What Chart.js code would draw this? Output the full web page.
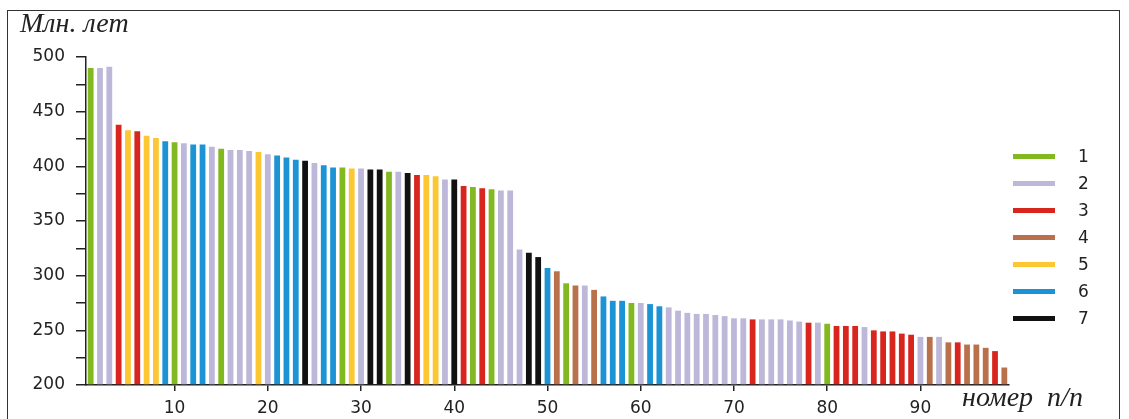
<!DOCTYPE html>
<html>
<head>
<meta charset="utf-8">
<script src="https://cdn.jsdelivr.net/npm/chart.js@4.4.1/dist/chart.umd.min.js"></script>
<style>
  html, body { margin: 0; padding: 0; background: #fff; }
  #wrap { position: relative; width: 1129px; height: 419px; overflow: hidden; }
  #frame { position: absolute; left: 7px; top: 10px; width: 1111px; height: 440px; border: 1.5px solid #333; }
  canvas { position: absolute; left: 0; top: 0; }
  .title { position: absolute; font-family: "Liberation Serif", serif; font-style: italic; font-size: 28px; color: #222; white-space: nowrap; }
  #legend { position: absolute; left: 1013px; top: 143px; font-family: "DejaVu Sans", sans-serif; font-size: 17px; color: #222; }
  #legend .row { position: relative; height: 27px; width: 90px; }
  #legend .sw { position: absolute; left: 0; top: 11px; width: 42px; height: 5px; }
  #legend .lb { position: absolute; left: 65px; top: 3px; }
</style>
</head>
<body>
<div id="wrap">
  <div id="frame"></div>
  <canvas id="chart" width="1129" height="419"></canvas>
  <div class="title" style="left:20px; top:7px;">Млн. лет</div>
  <div class="title" style="left:962px; top:381px;">номер&nbsp;&nbsp;п/п</div>
  <div id="legend"></div>
</div>
<script>
// Age of each object (Ma), in order of number
const ages = [
  490, 490, 491, 438, 433, 432, 428, 426, 423, 422,
  421, 420, 420, 418, 416, 415, 415, 414, 413, 411,
  410, 408, 406, 405, 403, 401, 399, 399, 398, 398,
  397, 397, 395, 395, 394, 392, 392, 391, 388, 388,
  382, 381, 380, 379, 378, 378, 324, 321, 317, 307,
  304, 293, 291, 291, 287, 281, 277, 277, 275, 275,
  274, 272, 271, 268, 266, 265, 265, 264, 263, 261,
  261, 260, 260, 260, 260, 259, 258, 257, 257, 256,
  254, 254, 254, 253, 250, 249, 249, 247, 246, 244,
  244, 244, 239, 239, 237, 237, 234, 231, 216
];

// Group (1..7) of each bar
const groups = [
  1, 2, 2, 3, 5, 3, 5, 5, 6, 1,
  2, 6, 6, 2, 1, 2, 2, 2, 5, 2,
  6, 6, 6, 7, 2, 6, 6, 1, 5, 2,
  7, 7, 1, 2, 7, 3, 5, 5, 2, 7,
  3, 1, 3, 1, 2, 2, 2, 7, 7, 6,
  4, 1, 4, 2, 4, 6, 6, 6, 1, 2,
  6, 6, 2, 2, 2, 2, 2, 2, 2, 2,
  2, 3, 2, 2, 2, 2, 2, 3, 2, 1,
  3, 3, 3, 2, 3, 3, 3, 3, 3, 2,
  4, 2, 4, 3, 4, 4, 4, 3, 4
];

const groupNames = ["1", "2", "3", "4", "5", "6", "7"];
const groupColors = ["#82b921", "#bdb7d9", "#d8261f", "#b9714b", "#fcc733", "#1b93d5", "#111111"];

const numbers = ages.map((_, i) => String(i + 1));

// legend
const legend = document.getElementById("legend");
groupNames.forEach((name, i) => {
    const row = document.createElement("div");
    row.className = "row";
    row.innerHTML = '<div class="sw" style="background:' + groupColors[i] + '"></div><div class="lb">' + name + '</div>';
    legend.appendChild(row);
});

const tickFont = { family: "'DejaVu Sans', sans-serif", size: 17 };

new Chart(document.getElementById("chart"), {
    type: "bar",
    data: {
        labels: numbers,
        datasets: [
            {
                data: ages,
                backgroundColor: groups.map((g) => groupColors[g - 1]),
                barPercentage: 0.62,
                categoryPercentage: 1.0,
                base: 200,
            },
        ],
    },
    options: {
        responsive: false,
        animation: false,
        layout: {
            padding: { left: 0, right: 120, top: 57, bottom: 0 },
        },
        plugins: {
            legend: { display: false },
            tooltip: { enabled: false },
        },
        scales: {
            x: {
                offset: true,
                grid: {
                    offset: false,
                    drawOnChartArea: false,
                    tickLength: 6,
                    lineWidth: 1.5,
                    color: (ctx) => ((ctx.index + 1) % 10 === 0 ? "#222" : "rgba(0,0,0,0)"),
                },
                border: { color: "#222", width: 1.5 },
                ticks: {
                    autoSkip: false,
                    maxRotation: 0,
                    padding: 7,
                    color: "#222",
                    font: tickFont,
                    callback: (v, i) => ((i + 1) % 10 === 0 ? numbers[i] : ""),
                },
                afterFit: (s) => { s.height = 34; },
            },
            y: {
                min: 200,
                max: 500,
                grid: {
                    drawOnChartArea: false,
                    tickLength: 10,
                    lineWidth: 1.5,
                    color: "#222",
                },
                border: { color: "#222", width: 1.5 },
                ticks: {
                    stepSize: 25,
                    padding: 11,
                    color: "#222",
                    font: tickFont,
                    callback: (v) => (v % 50 === 0 ? v : ""),
                },
                afterFit: (s) => { s.width = 86; },
            },
        },
    },
});
</script>
</body>
</html>
